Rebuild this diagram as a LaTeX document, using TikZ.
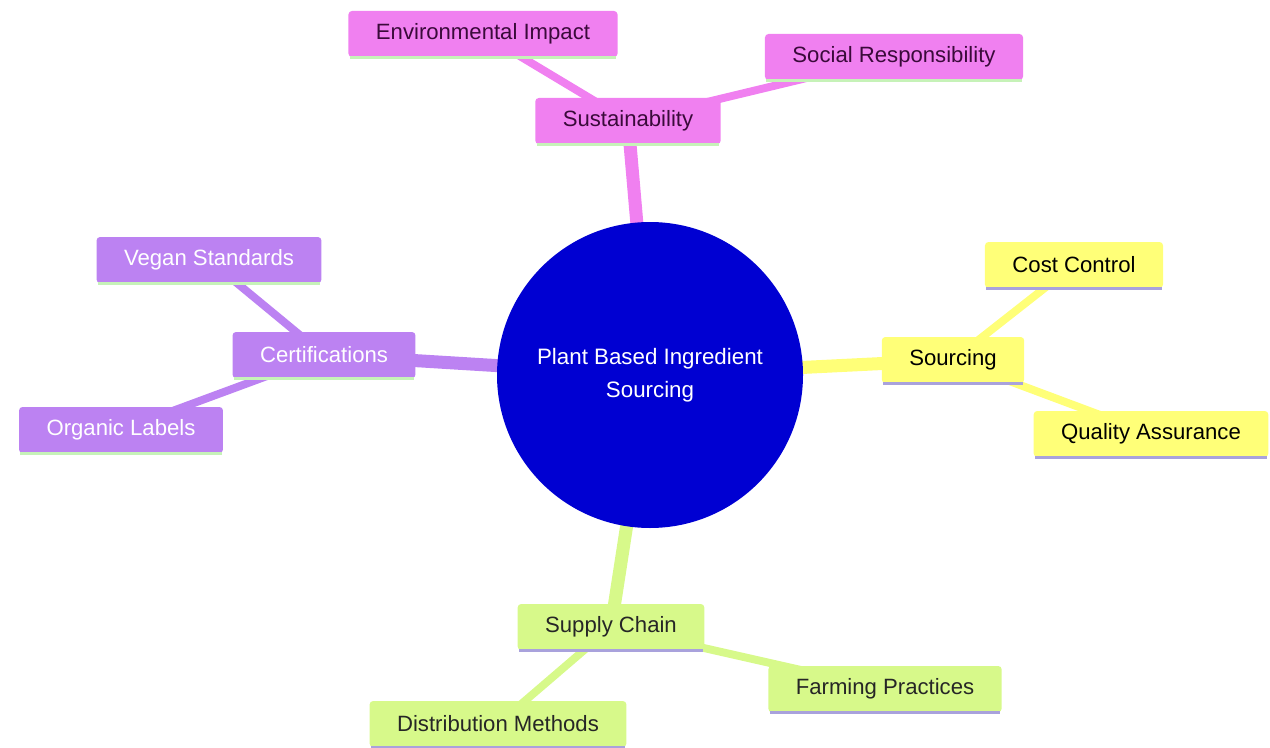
\documentclass[tikz,border=0pt]{standalone}
\usepackage{fontspec}
\setmainfont{Liberation Sans}
\usetikzlibrary{backgrounds}
\definecolor{sustpink}{HTML}{F080F0}
\definecolor{certpurple}{HTML}{BC82F2}
\definecolor{sourceyellow}{HTML}{FFFF78}
\definecolor{supplygreen}{HTML}{D7F98A}
\definecolor{rootblue}{HTML}{0000D2}
\definecolor{mintline}{HTML}{C6F2B8}
\definecolor{lilacline}{HTML}{A9A2DC}
\definecolor{plumtext}{HTML}{3A0A3A}
\begin{document}
\begin{tikzpicture}[
		box/.style={rounded corners=2pt, minimum height=0.92cm, inner xsep=0.55cm, font=\fontsize{12.6}{15}\selectfont},
		pinkbox/.style={box, fill=sustpink, text=plumtext},
		purplebox/.style={box, fill=certpurple, text=white},
		yellowbox/.style={box, fill=sourceyellow, text=black},
		greenbox/.style={box, fill=supplygreen, text=black!85},
		trunk/.style={line width=7.4pt},
		twig/.style={line width=4.5pt},
		underline/.style={line width=2pt}]
			\useasboundingbox (0, 0) rectangle (25.4, 14.94);
			\node[circle, fill=rootblue, minimum size=6.12cm, text=white, align=center, font=\fontsize{12.7}{18.8}\selectfont] (root) at (13.0, 7.44) {Plant Based Ingredient\\Sourcing};
			\node[pinkbox] (sust) at (12.56, 12.52) {Sustainability};
			\node[pinkbox] (env) at (9.66, 14.26) {Environmental Impact};
			\node[pinkbox] (social) at (17.88, 13.80) {Social Responsibility};
			\node[yellowbox] (sourcing) at (19.06, 7.74) {Sourcing};
			\node[yellowbox] (cost) at (21.48, 9.64) {Cost Control};
			\node[yellowbox] (quality) at (23.02, 6.26) {Quality Assurance};
			\node[purplebox] (cert) at (6.48, 7.84) {Certifications};
			\node[purplebox] (vegan) at (4.18, 9.74) {Vegan Standards};
			\node[purplebox] (organic) at (2.42, 6.34) {Organic Labels};
			\node[greenbox] (supply) at (12.22, 2.40) {Supply Chain};
			\node[greenbox] (farming) at (17.70, 1.16) {Farming Practices};
			\node[greenbox] (distrib) at (9.96, 0.46) {Distribution Methods};
			\begin{scope}[on background layer]
				\draw[trunk, sustpink] (root.center) -- (sust.center);
				\draw[trunk, sourceyellow] (root.center) -- (sourcing.center);
				\draw[trunk, certpurple] (root.center) -- (cert.center);
				\draw[trunk, supplygreen] (root.center) -- (supply.center);
				\draw[twig, sustpink] (sust.center) -- (env.center);
				\draw[twig, sustpink] (sust.center) -- (social.center);
				\draw[twig, sourceyellow] (sourcing.center) -- (cost.center);
				\draw[twig, sourceyellow] (sourcing.center) -- (quality.center);
				\draw[twig, certpurple] (cert.center) -- (vegan.center);
				\draw[twig, certpurple] (cert.center) -- (organic.center);
				\draw[twig, supplygreen] (supply.center) -- (farming.center);
				\draw[twig, supplygreen] (supply.center) -- (distrib.center);
			\end{scope}
			\foreach \n in {sust, env, social, cert, vegan, organic}
				\draw[underline, mintline] ([xshift=1pt]\n.south west) -- ([xshift=-1pt]\n.south east);
			\foreach \n in {sourcing, cost, quality, supply, farming, distrib}
				\draw[underline, lilacline] ([xshift=1pt]\n.south west) -- ([xshift=-1pt]\n.south east);
		\end{tikzpicture}
\end{document}
